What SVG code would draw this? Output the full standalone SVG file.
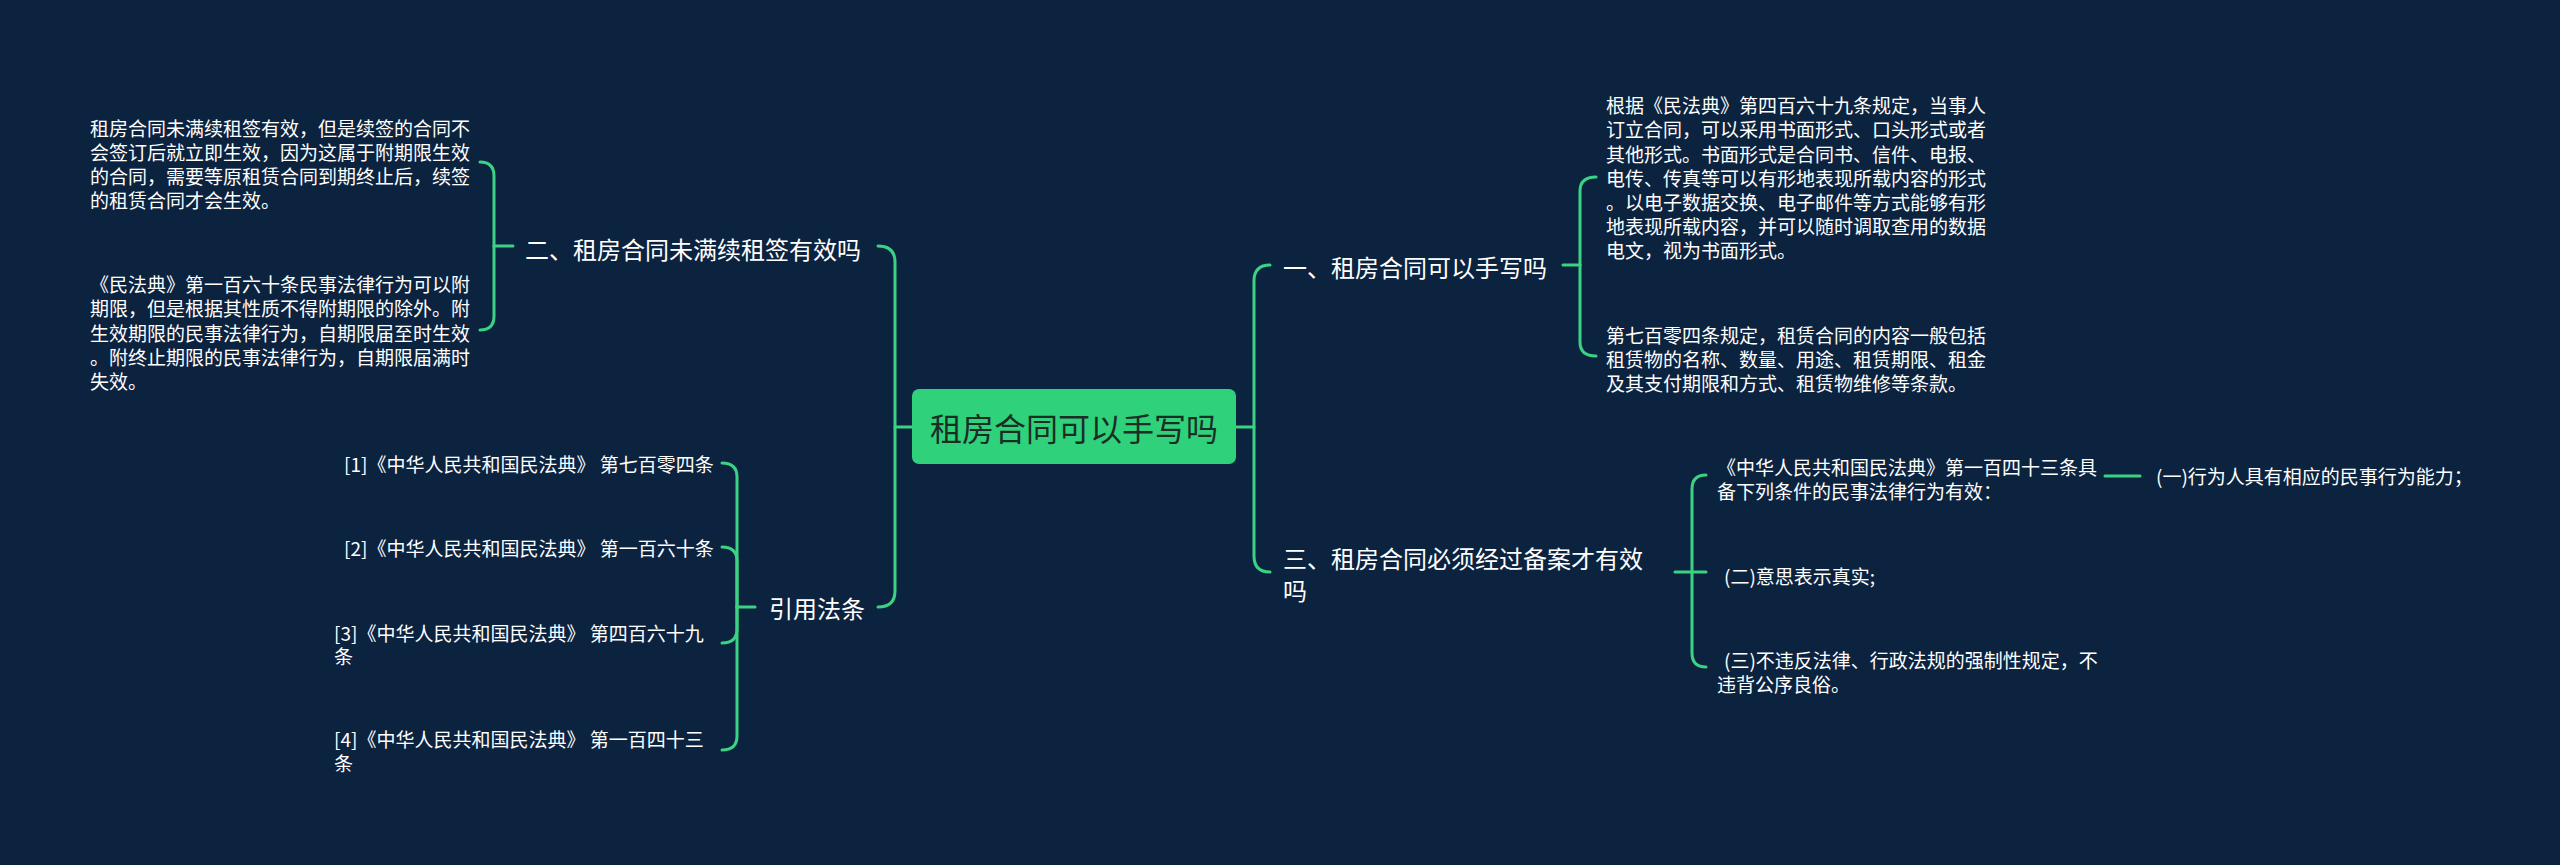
<svg xmlns="http://www.w3.org/2000/svg" width="2560" height="865" viewBox="0 0 2560 865">
<defs>
<style>
.bg{fill:#0c2340}
.c{fill:none;stroke:#3bd383;stroke-width:3;stroke-linecap:round;stroke-linejoin:round}
.t{font-family:"Noto Sans CJK SC","Noto Sans",sans-serif;fill:#ffffff;dominant-baseline:central}
.s{font-size:19px}
.m{font-size:24px}
.r{font-size:32px;fill:#1b2e26;text-anchor:middle}
.rootbox{fill:#2fd27a}
</style>
</defs>
<rect class="bg" x="0" y="0" width="2560" height="865"/>
<g id="connectors">
<path class="c" d="M878 246 Q895 246 895 262 V591 Q895 607 878 607"/>
<path class="c" d="M895 427 H912"/>
<path class="c" d="M1270 265 Q1254 265 1254 281 V556 Q1254 572 1270 572"/>
<path class="c" d="M1236 427 H1254"/>
<path class="c" d="M513 246 H494"/>
<path class="c" d="M494 246 V176 Q494 162 480 162"/>
<path class="c" d="M494 246 V316 Q494 330 480 330"/>
<path class="c" d="M755 607 H737"/>
<path class="c" d="M737 607 V477 Q737 463 722 463"/>
<path class="c" d="M737 607 V561 Q737 547 722 547"/>
<path class="c" d="M737 607 V629 Q737 643 722 643"/>
<path class="c" d="M737 607 V736 Q737 750 722 750"/>
<path class="c" d="M1563 265 H1580"/>
<path class="c" d="M1580 265 V191 Q1580 177 1596 177"/>
<path class="c" d="M1580 265 V342 Q1580 356 1596 356"/>
<path class="c" d="M1675 572 H1692"/>
<path class="c" d="M1692 572 V489 Q1692 475 1706 475"/>
<path class="c" d="M1692 572 H1706"/>
<path class="c" d="M1692 572 V653 Q1692 667 1706 667"/>
<path class="c" d="M2105 476 H2140"/>
</g>
<g id="root">
<rect class="rootbox" x="912" y="389" width="324" height="75" rx="7"/>
<text class="t r" x="1074" y="427">租房合同可以手写吗</text>
</g>
<g id="n2">
<text class="t m" x="525" y="248">二、租房合同未满续租签有效吗</text>
</g>
<g id="n2a">
<text class="t s" x="90"><tspan x="90" y="127">租房合同未满续租签有效，但是续签的合同不</tspan><tspan x="90" y="151">会签订后就立即生效，因为这属于附期限生效</tspan><tspan x="90" y="175">的合同，需要等原租赁合同到期终止后，续签</tspan><tspan x="90" y="199">的租赁合同才会生效。</tspan></text>
</g>
<g id="n2b">
<text class="t s" x="90"><tspan x="90" y="283">《民法典》第一百六十条民事法律行为可以附</tspan><tspan x="90" y="307">期限，但是根据其性质不得附期限的除外。附</tspan><tspan x="90" y="332">生效期限的民事法律行为，自期限届至时生效</tspan><tspan x="90" y="356">。附终止期限的民事法律行为，自期限届满时</tspan><tspan x="90" y="380">失效。</tspan></text>
</g>
<g id="n4">
<text class="t m" x="769" y="607">引用法条</text>
</g>
<g id="n4a"><text class="t s" x="344" y="463">[1]《中华人民共和国民法典》 第七百零四条</text></g>
<g id="n4b"><text class="t s" x="344" y="547">[2]《中华人民共和国民法典》 第一百六十条</text></g>
<g id="n4c"><text class="t s"><tspan x="334" y="632">[3]《中华人民共和国民法典》 第四百六十九</tspan><tspan x="334" y="655">条</tspan></text></g>
<g id="n4d"><text class="t s"><tspan x="334" y="738">[4]《中华人民共和国民法典》 第一百四十三</tspan><tspan x="334" y="762">条</tspan></text></g>
<g id="n1">
<text class="t m" x="1283" y="266">一、租房合同可以手写吗</text>
</g>
<g id="n1a">
<text class="t s"><tspan x="1606" y="104">根据《民法典》第四百六十九条规定，当事人</tspan><tspan x="1606" y="128">订立合同，可以采用书面形式、口头形式或者</tspan><tspan x="1606" y="153">其他形式。书面形式是合同书、信件、电报、</tspan><tspan x="1606" y="177">电传、传真等可以有形地表现所载内容的形式</tspan><tspan x="1606" y="201">。以电子数据交换、电子邮件等方式能够有形</tspan><tspan x="1606" y="225">地表现所载内容，并可以随时调取查用的数据</tspan><tspan x="1606" y="249">电文，视为书面形式。</tspan></text>
</g>
<g id="n1b">
<text class="t s"><tspan x="1606" y="334">第七百零四条规定，租赁合同的内容一般包括</tspan><tspan x="1606" y="358">租赁物的名称、数量、用途、租赁期限、租金</tspan><tspan x="1606" y="382">及其支付期限和方式、租赁物维修等条款。</tspan></text>
</g>
<g id="n3">
<text class="t m"><tspan x="1283" y="557">三、租房合同必须经过备案才有效</tspan><tspan x="1283" y="589">吗</tspan></text>
</g>
<g id="n3a">
<text class="t s"><tspan x="1717" y="466">《中华人民共和国民法典》第一百四十三条具</tspan><tspan x="1717" y="490">备下列条件的民事法律行为有效：</tspan></text>
</g>
<g id="n3a1">
<text class="t s" x="2156" y="475">(一)行为人具有相应的民事行为能力；</text>
</g>
<g id="n3b">
<text class="t s" x="1724" y="575">(二)意思表示真实;</text>
</g>
<g id="n3c">
<text class="t s"><tspan x="1724" y="659">(三)不违反法律、行政法规的强制性规定，不</tspan><tspan x="1717" y="683">违背公序良俗。</tspan></text>
</g>
</svg>
